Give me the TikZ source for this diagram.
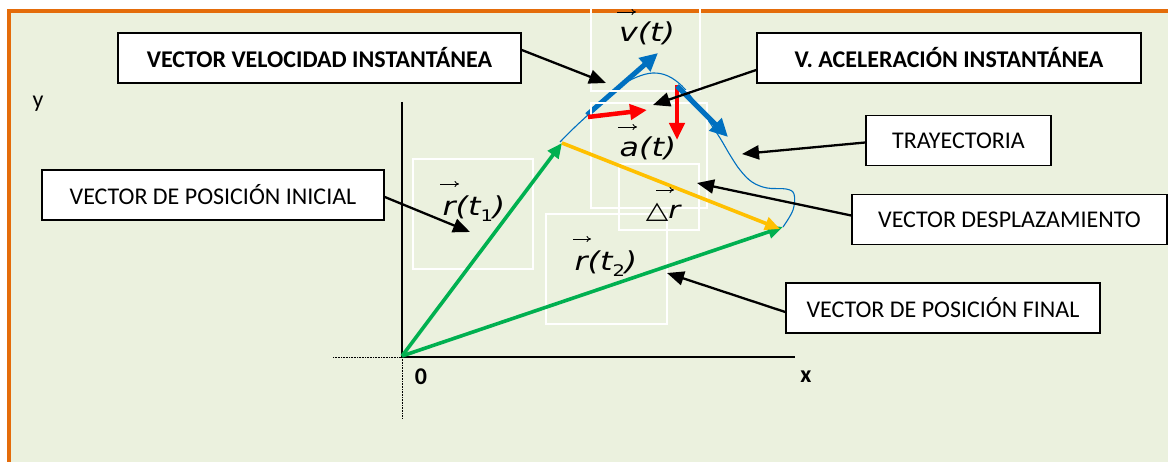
\documentclass[tikz,border=0pt]{standalone}
\usepackage{fontspec}
\setmainfont{Carlito}
\newfontfamily\mlab{DejaVu Sans}
\usetikzlibrary{arrows.meta,calc}
\definecolor{bg}{HTML}{EBF1DE}
\definecolor{frameor}{HTML}{E46C0A}
\definecolor{vgreen}{HTML}{00B050}
\definecolor{vyellow}{HTML}{FFC000}
\definecolor{vblue}{HTML}{0070C0}
\definecolor{vred}{HTML}{FF0000}
\newcommand{\wide}[1]{\scalebox{1.22}[1]{#1}}
\begin{document}
\begin{tikzpicture}[x=1pt,y=-1pt,
  labbox/.style={draw=black,line width=1.6pt,fill=white,inner sep=0pt,minimum height=50pt,font=\fontsize{24}{28}\selectfont},
  pointer/.style={draw=black,line width=2.3pt,-{Triangle[length=17pt,width=14pt]}},
  wbox/.style={draw=white,line width=1.5pt},
  gvec/.style={draw=vgreen,line width=3.6pt,-{Triangle[length=15pt,width=13pt]}},
  yvec/.style={draw=vyellow,line width=3.6pt,-{Triangle[length=15pt,width=13pt]}},
  bvec/.style={draw=vblue,line width=5pt,-{Triangle[length=18pt,width=17pt]}},
  rvec/.style={draw=vred,line width=4.5pt,-{Triangle[length=17pt,width=15pt]}},
  mlabel/.style={inner sep=0pt,font=\mlab\itshape\fontsize{26}{30}\selectfont},
  vecmark/.style={draw=black,line width=0.9pt,-{To[length=4.5pt,width=6pt]}},
  axlabel/.style={inner sep=0pt,font=\fontsize{24}{28}\selectfont},
]
\useasboundingbox (0,0) rectangle (1168,462);
% background and frame
\fill[bg] (8,11.5) rectangle (1168,462);
\draw[frameor,line width=4pt] (9,462) -- (9,11.5) -- (1168,11.5);

% coordinates
\coordinate (O) at (402,356);
\coordinate (P1) at (562,143);
\coordinate (P2) at (783,227);
\coordinate (Dh) at (780,229);
\coordinate (Vt) at (587,115);
\coordinate (Vh) at (658,53);
\coordinate (Bt) at (677,86);
\coordinate (Bh) at (728,137);
\coordinate (Rt) at (588,117);
\coordinate (Rh) at (647,110);
\coordinate (Rvt) at (677,85);
\coordinate (Rvh) at (677,140);

% trajectory
\draw[vblue,line width=1.1pt] plot[smooth,tension=0.6] coordinates {
 (560,142) (575,127) (590,113) (605,98) (620,86) (637,77) (653,73) (668,76)
 (682,86) (695,102) (708,120) (720,138) (730,155) (740,170) (752,182)
 (767,188) (786,189) (794,194) (793,210) (783,227)};

% velocity vector (under the white boxes)
\draw[bvec] (Vt) -- (Vh);

% white boxes
\draw[wbox] (591,-2) rectangle (700,91);
\draw[wbox] (591,103) rectangle (707,208);
\draw[wbox] (619,164) rectangle (699,230);
\draw[wbox] (413,159) rectangle (533,269);
\draw[wbox] (546,214) rectangle (667,324);

% axes
\draw[black,line width=2pt] (402,102) -- (402,357) -- (795,357);
\draw[black,line width=0.6pt,densely dotted] (333,357) -- (402,357);
\draw[black,line width=0.6pt,densely dotted] (402,357) -- (402,418);
\node[axlabel] (ylab) at (38,104) {y};
\node[axlabel,font=\bfseries\fontsize{24}{28}\selectfont] (zero) at (421,377) {0};
\node[axlabel,font=\bfseries\fontsize{24}{28}\selectfont] (xlab) at (806,377) {x};

% vectors
\draw[gvec] (O) -- (P1);
\draw[gvec] (O) -- (P2);
\draw[yvec] (P1) -- (Dh);
\draw[rvec] (Rvt) -- (Rvh);
\draw[bvec] (Bt) -- (Bh);
\draw[rvec] (Rt) -- (Rh);

% math labels
\node[mlabel] (vlab) at (647,33) {\wide{v(t)}};
\node[mlabel] (alab) at (648,148) {\wide{a(t)}};
\node[mlabel,font=\mlab\fontsize{24}{28}\selectfont] (dlab) at (664,212) {\wide{△\textit{r}}};
\node[mlabel] (r1lab) at (474,209) {\wide{r(t\raisebox{-6pt}{\fontsize{16}{17}\selectfont\upshape 1})}};
\node[mlabel] (r2lab) at (606,264) {\wide{r(t\raisebox{-6pt}{\fontsize{16}{17}\selectfont\upshape 2})}};

% vector marks above the letters
\coordinate (vma) at (617,12);  \coordinate (vmb) at (636,12);
\coordinate (ama) at (618,127); \coordinate (amb) at (637,127);
\coordinate (dma) at (656,190); \coordinate (dmb) at (674,190);
\coordinate (r1a) at (440,184); \coordinate (r1b) at (459,184);
\coordinate (r2a) at (573,239); \coordinate (r2b) at (591,239);
\draw[vecmark] (vma) -- (vmb);
\draw[vecmark] (ama) -- (amb);
\draw[vecmark] (dma) -- (dmb);
\draw[vecmark] (r1a) -- (r1b);
\draw[vecmark] (r2a) -- (r2b);

% label boxes
\node[labbox,minimum width=403pt,font=\bfseries\fontsize{24}{28}\selectfont] (vel) at (319.5,58) {VECTOR VELOCIDAD INSTANTÁNEA};
\node[labbox,minimum width=384pt,font=\bfseries\fontsize{24}{28}\selectfont] (acc) at (949,58) {V. ACELERACIÓN INSTANTÁNEA};
\node[labbox,minimum width=185pt] (tray) at (958.5,140.5) {TRAYECTORIA};
\node[labbox,minimum width=315pt] (desp) at (1009.5,219.5) {VECTOR DESPLAZAMIENTO};
\node[labbox,minimum width=314pt] (final) at (943,308) {VECTOR DE POSICIÓN FINAL};
\node[labbox,minimum width=342pt] (ini) at (213,195) {VECTOR DE POSICIÓN INICIAL};

% pointers
\coordinate (tVel) at (606,83);
\coordinate (tAcc) at (653,105);
\coordinate (tTray) at (742,154);
\coordinate (tDesp) at (697,183);
\coordinate (tFinal) at (667,273);
\coordinate (tIni) at (470,232);
\draw[pointer] ($(vel.east)+(0,-8)$) -- (tVel);
\draw[pointer] ($(acc.west)+(0,12)$) -- (tAcc);
\draw[pointer] ($(tray.west)+(0,2)$) -- (tTray);
\draw[pointer] ($(desp.west)+(0,-4)$) -- (tDesp);
\draw[pointer] ($(final.west)+(0,4)$) -- (tFinal);
\draw[pointer] ($(ini.east)+(0,2)$) -- (tIni);
\end{tikzpicture}
\end{document}
